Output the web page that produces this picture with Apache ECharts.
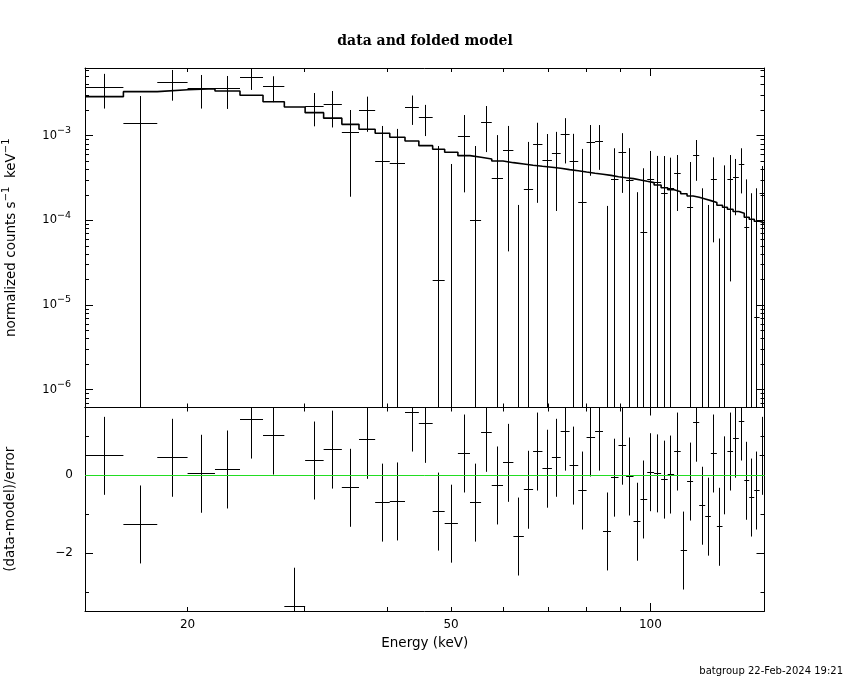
<!DOCTYPE html>
<html>
<head>
<meta charset="utf-8">
<script src="https://cdn.jsdelivr.net/npm/echarts@6/dist/echarts.min.js"></script>
<style>
html, body { margin: 0; padding: 0; background: #fff; }
#chart { width: 850px; height: 680px; }
</style>
</head>
<body>
<div id="chart"></div>
<script>
// energy bin edges (keV), 59 channels
var binEdges = [14.0, 16.0, 18.0, 20.0, 22.0, 24.0, 26.0, 28.0, 30.1, 32.1,
    34.2, 36.3, 38.4, 40.4, 42.6, 44.7, 46.9, 48.9, 51.2, 53.4,
    55.5, 57.6, 59.9, 62.1, 64.4, 66.5, 68.7, 71.0, 73.2, 75.5,
    77.8, 80.1, 82.5, 84.8, 87.2, 89.5, 91.9, 94.3, 96.6, 98.9,
    101.3, 103.8, 106.2, 108.6, 111.1, 113.6, 116.0, 118.5, 121.0, 123.4,
    126.0, 128.5, 130.7, 133.3, 136.0, 138.6, 141.0, 143.5, 146.2, 148.7];
// normalized counts s^-1 keV^-1
var counts = [3.73e-3, 1.40e-3, 4.28e-3, 3.65e-3, 3.57e-3, 4.90e-3, 3.76e-3, -1.55e-3, 2.24e-3, 2.31e-3,
    1.10e-3, 2.00e-3, 5.02e-4, 4.72e-4, 2.16e-3, 1.65e-3, 1.96e-5, -2.62e-4, 9.84e-4, 1.00e-4,
    1.44e-3, 3.16e-4, 6.73e-4, -3.94e-4, 2.34e-4, 7.91e-4, 5.16e-4, 6.19e-4, 1.04e-3, 5.02e-4,
    1.63e-4, 8.36e-4, 8.65e-4, -2.88e-4, 3.00e-4, 6.41e-4, 2.92e-4, -2.32e-4, 7.22e-5, 3.00e-4,
    2.77e-4, 2.09e-4, 2.36e-4, 3.60e-4, -3.73e-4, 1.43e-4, 5.91e-4, -3.4e-5, -1.68e-4, 3.05e-4,
    -2.21e-4, 1.43e-4, 3.05e-4, 3.23e-4, 4.59e-4, 8.28e-5, -3.8e-5, 7.16e-6, 2.08e-4];
var countErr = [1.64e-3, 1.54e-3, 1.69e-3, 1.56e-3, 1.50e-3, 1.43e-3, 1.27e-3, 1.10e-3, 0.95e-3, 1.06e-3,
    0.91e-3, 0.89e-3, 8.0e-4, 7.3e-4, 8.2e-4, 6.6e-4, 7.35e-4, 7.25e-4, 7.7e-4, 6.55e-4,
    8.0e-4, 7.0e-4, 6.3e-4, 5.46e-4, 6.1e-4, 6.3e-4, 5.3e-4, 4.9e-4, 5.7e-4, 5.5e-4,
    5.34e-4, 5.0e-4, 4.7e-4, 4.36e-4, 4.1e-4, 4.3e-4, 4.2e-4, 4.47e-4, 3.4e-4, 3.6e-4,
    3.0e-4, 3.66e-4, 3.14e-4, 2.31e-4, 3.0e-4, 3.46e-4, 2.98e-4, 2.73e-4, 3.2e-4, 2.5e-4,
    2.82e-4, 3.03e-4, 2.86e-4, 2.08e-4, 2.51e-4, 2.22e-4, 2.47e-4, 2.32e-4, 2.3e-4];
// folded model per channel
var model = [2.89e-3, 3.31e-3, 3.49e-3, 3.59e-3, 3.37e-3, 3.00e-3, 2.52e-3, 2.18e-3, 1.87e-3, 1.61e-3,
    1.36e-3, 1.19e-3, 1.07e-3, 9.58e-4, 8.65e-4, 7.62e-4, 6.91e-4, 6.37e-4, 5.81e-4, 5.56e-4,
    5.31e-4, 5.02e-4, 4.80e-4, 4.63e-4, 4.47e-4, 4.35e-4, 4.24e-4, 4.12e-4, 3.97e-4, 3.86e-4,
    3.72e-4, 3.60e-4, 3.50e-4, 3.40e-4, 3.28e-4, 3.19e-4, 3.11e-4, 3.00e-4, 2.89e-4, 2.79e-4,
    2.62e-4, 2.43e-4, 2.30e-4, 2.18e-4, 2.06e-4, 1.94e-4, 1.87e-4, 1.79e-4, 1.71e-4, 1.62e-4,
    1.51e-4, 1.43e-4, 1.35e-4, 1.27e-4, 1.21e-4, 1.09e-4, 1.03e-4, 9.75e-5, 9.3e-5];
// (data-model)/error
var resid = [0.50, -1.26, 0.45, 0.04, 0.15, 1.43, 1.02, -3.37, 0.38, 0.66,
    -0.32, 0.91, -0.70, -0.67, 1.61, 1.32, -0.93, -1.24, 0.56, -0.70,
    1.09, -0.26, 0.32, -1.57, -0.37, 0.61, 0.17, 0.45, 1.12, 0.25,
    -0.39, 0.97, 1.12, -1.44, -0.06, 0.76, -0.03, -1.19, -0.62, 0.08,
    0.05, -0.11, 0.02, 0.61, -1.93, -0.16, 1.35, -0.78, -1.06, 0.56,
    -1.32, 0.00, 0.61, 0.94, 1.38, -0.14, -0.57, -0.39, 0.50];

// ticks and labels
var xTicks = [20, 30, 40, 50, 60, 70, 80, 90, 100];
var xMajorTicks = [100];
var xLabels = [20, 50, 100];
var yTopLabels = [1e-6, 1e-5, 1e-4, 1e-3];
var residTicks = [-3, -2, -1, 0, 1];
var residLabels = [-2, 0];

var xMin = 14.0, xMax = 148.7;
var yTopMin = 6.16e-7, yTopMax = 6.30e-3;
var yResMin = -3.48, yResMax = 1.74;

var yTopTicks = [];
for (var d = -7; d <= -3; d++) {
    for (var k = 1; k <= 9; k++) {
        yTopTicks.push(k * Math.pow(10, d));
    }
}

var SANS = "'DejaVu Sans', 'Liberation Sans', sans-serif";
var BLACK = '#000';

function makeAxis(type, opts) {
    var ax = {
        type: type,
        gridIndex: opts.grid,
        position: opts.pos,
        min: opts.min,
        max: opts.max,
        axisLine: {show: !opts.major, onZero: false, lineStyle: {color: BLACK, width: 1}},
        axisTick: {show: true, inside: true, length: opts.major ? 8 : 4,
            customValues: opts.ticks, lineStyle: {color: BLACK, width: 1}},
        axisLabel: {show: false},
        splitLine: {show: false},
        minorTick: {show: false}
    };
    if (opts.labels) {
        ax.axisLabel = opts.labels;
    }
    if (opts.name) {
        ax.name = opts.name;
        ax.nameLocation = 'middle';
        ax.nameGap = opts.nameGap;
        ax.nameRotate = opts.nameRotate;
        ax.nameTextStyle = opts.nameStyle;
    }
    return ax;
}

function supLabel(v) {
    var p = Math.round(Math.log10(v));
    return '{b|10}{s|' + (p < 0 ? '\u2212' : '') + Math.abs(p) + '}';
}

var xAxes = [];
var yAxes = [];
[0, 1].forEach(function (g) {
    xAxes.push(makeAxis('log', {grid: g, pos: 'bottom', min: xMin, max: xMax, ticks: xTicks,
        labels: g === 1 ? {show: true, customValues: xLabels, margin: 8,
            color: BLACK, fontFamily: SANS, fontSize: 12} : null,
        name: g === 1 ? 'Energy (keV)' : null, nameGap: 25,
        nameStyle: {color: BLACK, fontFamily: SANS, fontSize: 13.5}}));
    xAxes.push(makeAxis('log', {grid: g, pos: 'bottom', min: xMin, max: xMax, ticks: xMajorTicks, major: true}));
    xAxes.push(makeAxis('log', {grid: g, pos: 'top', min: xMin, max: xMax, ticks: xTicks}));
    xAxes.push(makeAxis('log', {grid: g, pos: 'top', min: xMin, max: xMax, ticks: xMajorTicks, major: true}));
});

// top panel y axes (log)
yAxes.push(makeAxis('log', {grid: 0, pos: 'left', min: yTopMin, max: yTopMax, ticks: yTopTicks,
    labels: {show: true, customValues: yTopLabels, margin: 14, formatter: supLabel,
        rich: {
            b: {color: BLACK, fontFamily: SANS, fontSize: 11.5, lineHeight: 20},
            s: {color: BLACK, fontFamily: SANS, fontSize: 9.5, lineHeight: 9, verticalAlign: 'top'}
        }},
    name: '{n|normalized counts s}{s|\u22121}{n|  keV}{s|\u22121}', nameGap: 64, nameRotate: 90,
    nameStyle: {rich: {
        n: {color: BLACK, fontFamily: SANS, fontSize: 13.5, lineHeight: 20},
        s: {color: BLACK, fontFamily: SANS, fontSize: 10, lineHeight: 9, verticalAlign: 'top'}
    }}}));
yAxes.push(makeAxis('log', {grid: 0, pos: 'left', min: yTopMin, max: yTopMax, ticks: yTopLabels, major: true}));
yAxes.push(makeAxis('log', {grid: 0, pos: 'right', min: yTopMin, max: yTopMax, ticks: yTopTicks}));
yAxes.push(makeAxis('log', {grid: 0, pos: 'right', min: yTopMin, max: yTopMax, ticks: yTopLabels, major: true}));

// residual panel y axes
yAxes.push(makeAxis('value', {grid: 1, pos: 'left', min: yResMin, max: yResMax, ticks: residTicks,
    labels: {show: true, customValues: residLabels, margin: 12, color: BLACK, fontFamily: SANS, fontSize: 12,
        formatter: function (v) { return String(v).replace('-', '\u2212'); }},
    name: '(data-model)/error', nameGap: 68, nameRotate: 90,
    nameStyle: {color: BLACK, fontFamily: SANS, fontSize: 13.5}}));
yAxes.push(makeAxis('value', {grid: 1, pos: 'left', min: yResMin, max: yResMax, ticks: residLabels, major: true}));
yAxes.push(makeAxis('value', {grid: 1, pos: 'right', min: yResMin, max: yResMax, ticks: residTicks}));
yAxes.push(makeAxis('value', {grid: 1, pos: 'right', min: yResMin, max: yResMax, ticks: residLabels, major: true}));

// data rows for the error-bar crosses
var specRows = [];
var residRows = [];
for (var i = 0; i < counts.length; i++) {
    specRows.push([binEdges[i], binEdges[i + 1], counts[i], countErr[i]]);
    residRows.push([binEdges[i], binEdges[i + 1], resid[i]]);
}
// histogram of the folded model
var modelSteps = [];
for (var j = 0; j < binEdges.length; j++) {
    modelSteps.push([binEdges[j], model[Math.min(j, model.length - 1)]]);
}

function crisp(v) { return Math.round(v - 0.5) + 0.5; }

function seg(x1, y1, x2, y2) {
    return {type: 'line', shape: {x1: x1, y1: y1, x2: x2, y2: y2},
        style: {stroke: BLACK, lineWidth: 1}};
}

// cross = horizontal bin width + vertical 1-sigma bar, clipped to the panel
function crossItem(api, cs, lo, hi, y, up, dn, isLog) {
    var top = cs.y, bot = cs.y + cs.height;
    var mid = (lo + hi) / 2;
    var kids = [];
    if (!isLog || up > 0) {
        var pu = api.coord([mid, up]);
        var yd = (!isLog || dn > 0) ? api.coord([mid, dn])[1] : bot + 10;
        var y1 = Math.max(top, pu[1]), y2 = Math.min(bot, yd);
        if (y1 < y2) {
            var px = crisp(pu[0]);
            kids.push(seg(px, y1, px, y2));
        }
    }
    if (!isLog || y > 0) {
        var a = api.coord([lo, y]), b = api.coord([hi, y]);
        if (a[1] >= top && a[1] <= bot) {
            var py = crisp(a[1]);
            kids.push(seg(a[0], py, b[0], py));
        }
    }
    return {type: 'group', children: kids};
}

var chart = echarts.init(document.getElementById('chart'));
chart.setOption({
    animation: false,
    backgroundColor: '#fff',
    title: [{
        text: 'data and folded model',
        left: 'center', top: 29,
        textStyle: {color: BLACK, fontFamily: "'DejaVu Serif', serif", fontSize: 14, fontWeight: 'bold'}
    }, {
        text: 'batgroup 22-Feb-2024 19:21',
        right: 2, top: 661,
        textStyle: {color: BLACK, fontFamily: SANS, fontSize: 10, fontWeight: 'normal'}
    }],
    grid: [
        {left: 85, right: 85.5, top: 68, height: 339.5, containLabel: false, outerBoundsMode: 'none'},
        {left: 85, right: 85.5, top: 407.5, height: 203.5, containLabel: false, outerBoundsMode: 'none'}
    ],
    xAxis: xAxes,
    yAxis: yAxes,
    series: [{
        type: 'line',
        name: 'model',
        xAxisIndex: 0, yAxisIndex: 0,
        step: 'end',
        data: modelSteps,
        showSymbol: false,
        clip: true,
        lineStyle: {color: BLACK, width: 1.6},
        z: 3
    }, {
        type: 'custom',
        name: 'data',
        xAxisIndex: 0, yAxisIndex: 0,
        data: specRows,
        encode: {x: [0, 1], y: 3},
        renderItem: function (params, api) {
            var y = api.value(2), e = api.value(3);
            return crossItem(api, params.coordSys, api.value(0), api.value(1), y, y + e, y - e, true);
        },
        z: 4
    }, {
        type: 'custom',
        name: 'residuals',
        xAxisIndex: 4, yAxisIndex: 4,
        data: residRows,
        encode: {x: [0, 1], y: 2},
        renderItem: function (params, api) {
            var r = api.value(2);
            return crossItem(api, params.coordSys, api.value(0), api.value(1), r, r + 1, r - 1, false);
        },
        markLine: {
            silent: true,
            symbol: ['none', 'none'],
            label: {show: false},
            lineStyle: {color: '#22dd22', width: 1, type: 'solid'},
            data: [{yAxis: 0}]
        },
        z: 4
    }]
});
</script>
</body>
</html>
